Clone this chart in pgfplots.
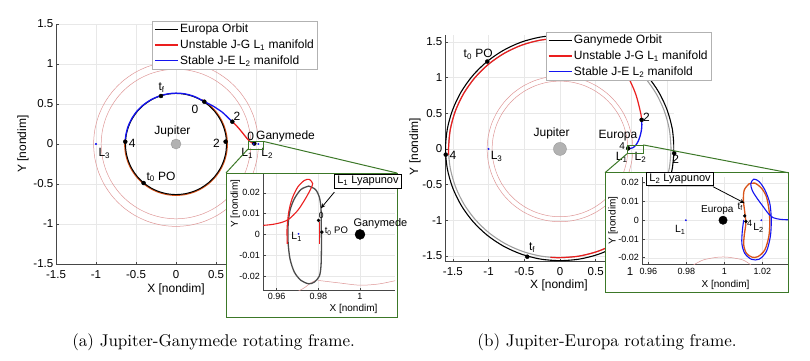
\documentclass[border=0pt]{standalone}
\usepackage{fontspec}
\usepackage{pgfplots}
\pgfplotsset{compat=1.18}
\usetikzlibrary{arrows.meta,shadows}
\newfontfamily\arial{Liberation Sans}
\newfontfamily\capfont{lmroman10-regular.otf}
\definecolor{mred}{RGB}{235,30,30}
\definecolor{mblue}{RGB}{20,20,240}
\definecolor{morange}{RGB}{217,83,25}
\definecolor{zvc}{RGB}{222,150,150}
\definecolor{ggreen}{RGB}{60,120,40}
\definecolor{axgray}{RGB}{70,70,70}
\newcommand\fsz[1]{\fontsize{#1}{#1}\selectfont}
\tikzset{
  ann/.style={font=\arial\fsz{12}, inner sep=0pt},
  callout/.style={draw=black, line width=1pt, fill=white, inner xsep=2.5pt, inner ysep=2pt,
     font=\arial\fsz{11}, drop shadow={shadow xshift=0.8pt, shadow yshift=-0.8pt, opacity=0.4}},
}
\pgfplotsset{
  base/.style={
    scale only axis, clip mode=individual, scaled ticks=false,
    axis x line*=bottom, axis y line*=left,
    axis line style={axgray, line width=0.5pt},
    tick style={axgray, line width=0.5pt},
    tick align=inside, major tick length=2.5pt,
    grid=major, grid style={gray!18, line width=0.4pt},
  },
  mainax/.style={base,
    tick label style={font=\arial\fsz{11.5}},
    label style={font=\arial\fsz{12}},
    xtick={-1.5,-1,-0.5,0,0.5,1,1.5},
    xticklabels={-1.5,-1,-0.5,0,0.5,{},{}},
    ytick={-1.5,-1,-0.5,0,0.5,1,1.5},
    yticklabels={-1.5,-1,-0.5,0,0.5,1,1.5},
    yticklabel style={xshift=0.8pt},
    xticklabel style={yshift=-3pt},
    xlabel={X [nondim]}, ylabel={Y [nondim]},
    legend cell align=left,
    legend image code/.code={\draw[#1, line width=1.5pt] (0pt,0pt) -- (23pt,0pt);},
  },
  lgd/.style={draw=gray!60, fill=white, font=\arial\fsz{12}, inner xsep=2pt, inner ysep=2pt,
     row sep=3.5pt, nodes={inner xsep=1.5pt, inner ysep=1pt}},
  inax/.style={base,
    tick label style={font=\arial\fsz{9}},
    label style={font=\arial\fsz{10}},
    ytick={-0.02,-0.01,0,0.01,0.02},
    yticklabels={-0.02,-0.01,0,0.01,0.02},
    xlabel={X [nondim]}, ylabel={Y [nondim]},
  },
  mk/.style={only marks, mark=*, mark size=2pt, black},
}
\begin{document}
\begin{tikzpicture}
\path[use as bounding box] (0,0) rectangle (810pt,360pt);
%% ================= (a) Jupiter-Ganymede =================
\begin{axis}[mainax, at={(56pt,96pt)}, anchor=south west, width=240pt, height=240pt,
  xmin=-1.5, xmax=1.5, ymin=-1.5, ymax=1.5,
  xlabel style={at={(axis description cs:0.5,-0.104)}, anchor=center},
  ylabel style={at={(axis description cs:-0.1375,0.5)}, anchor=center},
  legend style={lgd, at={(axis description cs:0.4,1.0125)}, anchor=north west}]
\addlegendimage{black}\addlegendentry{Europa Orbit}
\addlegendimage{mred}\addlegendentry{Unstable J-G L\textsubscript{1} manifold}
\addlegendimage{mblue}\addlegendentry{Stable J-E L\textsubscript{2} manifold}
% zero velocity curves
\addplot[zvc, line width=0.5pt, data cs=polar, smooth] coordinates {(3,1.03) (10,1.03) (20,1.03) (30,1.03) (40,1.03) (50,1.03) (60,1.03) (70,1.03) (80,1.03) (90,1.03) (100,1.03) (110,1.03) (120,1.03) (130,1.03) (140,1.03) (150,1.03) (160,1.03) (170,1.03) (180,1.03) (190,1.03) (200,1.03) (210,1.03) (220,1.03) (230,1.03) (240,1.03) (250,1.03) (260,1.03) (270,1.03) (280,1.03) (290,1.03) (300,1.03) (310,1.03) (320,1.03) (330,1.03) (340,1.03) (350,1.03) (357,1.03)};
\addplot[zvc, line width=0.5pt, data cs=polar, smooth] coordinates {(3,0.935) (10,0.935) (20,0.935) (30,0.935) (40,0.935) (50,0.935) (60,0.935) (70,0.935) (80,0.935) (90,0.935) (100,0.935) (110,0.935) (120,0.935) (130,0.935) (140,0.935) (150,0.935) (160,0.935) (170,0.935) (180,0.935) (190,0.935) (200,0.935) (210,0.935) (220,0.935) (230,0.935) (240,0.935) (250,0.935) (260,0.935) (270,0.935) (280,0.935) (290,0.935) (300,0.935) (310,0.935) (320,0.935) (330,0.935) (340,0.935) (350,0.935) (357,0.935)};
% unstable manifold (orange) along Europa orbit
\addplot[morange, line width=1.3pt, data cs=polar, smooth] coordinates {(175,0.641) (180,0.641) (190,0.641) (200,0.641) (210,0.641) (220,0.641) (230,0.641) (240,0.641) (250,0.641) (260,0.641) (270,0.641) (280,0.641) (290,0.641) (300,0.641) (310,0.641) (320,0.641) (330,0.641) (340,0.641) (350,0.641) (360,0.641) (370,0.641) (380,0.641) (390,0.641) (400,0.641) (410,0.641) (420,0.641)};
% Europa orbit
\addplot[black, line width=1pt, data cs=polar, smooth] coordinates {(0,0.632) (10,0.632) (20,0.632) (30,0.632) (40,0.632) (50,0.632) (60,0.632) (70,0.632) (80,0.632) (90,0.632) (100,0.632) (110,0.632) (120,0.632) (130,0.632) (140,0.632) (150,0.632) (160,0.632) (170,0.632) (180,0.632) (190,0.632) (200,0.632) (210,0.632) (220,0.632) (230,0.632) (240,0.632) (250,0.632) (260,0.632) (270,0.632) (280,0.632) (290,0.632) (300,0.632) (310,0.632) (320,0.632) (330,0.632) (340,0.632) (350,0.632) (360,0.632)};
% stable J-E L2 manifold
\addplot[mblue, line width=1.3pt, data cs=polar, smooth] coordinates {(177.4,0.636) (170,0.637) (160,0.638) (150,0.638) (140,0.638) (130,0.637) (120,0.636) (110,0.635) (100,0.635) (90,0.636) (80,0.637) (70,0.637) (60,0.637) (56.2,0.638) (50,0.650) (45,0.665) (40,0.680) (35,0.700) (30,0.717) (25,0.737) (21.6,0.757)};
% unstable J-G L1 manifold
\addplot[mred, line width=1.3pt, smooth] coordinates {(0.704,0.279) (0.745,0.240) (0.790,0.190) (0.835,0.135) (0.875,0.085) (0.910,0.045) (0.940,0.020) (0.965,0.008) (0.980,0.006)};
% points
\addplot[mk] coordinates {(-0.188,0.600) (0.354,0.529) (0.704,0.279) (-0.634,0.029) (0.620,0.029) (-0.405,-0.4875) (0.979,0.006)};
\addplot[only marks, mark=*, mark size=0.8pt, mblue] coordinates {(-1,0) (0.97,0) (1.03,0)};
\addplot[only marks, mark=*, mark size=5pt, mark options={fill=gray!60, draw=gray!80}] coordinates {(0,0)};
\node[ann] at (axis cs:-0.18,0.708) {t\textsubscript{f}};
\node[ann] at (axis cs:0.237,0.43) {0};
\node[ann] at (axis cs:0.762,0.345) {2};
\node[ann] at (axis cs:-0.546,0.012) {4};
\node[ann] at (axis cs:0.507,0.012) {2};
\node[ann, anchor=west] at (axis cs:-0.37,-0.41) {t\textsubscript{0} PO};
\node[ann] at (axis cs:0.933,0.094) {0};
\node[ann, anchor=west] at (axis cs:1.0,0.094) {Ganymede};
\node[ann] at (axis cs:0.89,-0.115) {L\textsubscript{1}};
\node[ann] at (axis cs:1.14,-0.12) {L\textsubscript{2}};
\node[ann] at (axis cs:-0.896,-0.12) {L\textsubscript{3}};
\node[ann] at (axis cs:-0.044,0.16) {Jupiter};
\draw[ggreen, line width=0.8pt] (axis cs:0.9,-0.0625) rectangle (axis cs:1.095,0.032);
\coordinate (ra1) at (axis cs:1.095,0.032);
\coordinate (ra2) at (axis cs:0.9,-0.0625);
\end{axis}
%% inset (a)
\filldraw[fill=white, draw=ggreen, line width=1pt] (226pt,43pt) rectangle (397pt,187pt);
\draw[ggreen, line width=1pt] (ra1) -- (397pt,187pt);
\draw[ggreen, line width=1pt] (ra2) -- (226pt,187pt);
\begin{axis}[inax, at={(263.3pt,70pt)}, anchor=south west, width=131.7pt, height=116pt,
  xmin=0.9536, xmax=1.0168, ymin=-0.0267, ymax=0.029,
  xtick={0.96,0.98,1}, xticklabels={0.96,0.98,1},
  xlabel style={at={(axis description cs:0.685,-0.161)}, anchor=center},
  ylabel style={at={(axis description cs:-0.2126,0.744)}, anchor=center}]
\addplot[zvc, line width=0.5pt, smooth] coordinates {(0.9700,-0.0275) (0.9735,-0.0255) (0.9765,-0.0232) (0.9785,-0.0222)};
\addplot[zvc, line width=0.5pt, smooth] coordinates {(0.9800,-0.0221) (0.9900,-0.0233) (1.0000,-0.0244) (1.0090,-0.0238) (1.0170,-0.0222)};
\addplot[black!70, line width=1.3pt, smooth] coordinates {(0.9754,0.0232) (0.9786,0.0216) (0.9805,0.0179) (0.9813,0.0123) (0.9814,0.0043) (0.9815,-0.0053) (0.9813,-0.0149) (0.9805,-0.0200) (0.9781,-0.0229) (0.9754,-0.0237) (0.9717,-0.0221) (0.9685,-0.0181) (0.9664,-0.0117) (0.9655,-0.0037) (0.9655,0.0043) (0.9664,0.0115) (0.9685,0.0171) (0.9717,0.0216) (0.9754,0.0232)};
\addplot[mred, line width=1.1pt] coordinates {(0.9807,0.0059) (0.9807,-0.0045)};
\addplot[mred, line width=1.1pt, smooth] coordinates {(0.9530,0.0043) (0.9581,0.0048) (0.9629,0.0059) (0.9661,0.0075) (0.9701,0.0115) (0.9733,0.0163) (0.9760,0.0211) (0.9773,0.0243) (0.9757,0.0264) (0.9733,0.0259) (0.9701,0.0227) (0.9674,0.0171) (0.9658,0.0107) (0.9650,0.0027) (0.9651,-0.0045)};
\addplot[only marks, mark=*, mark size=1.5pt, black] coordinates {(0.9801,0.0067) (0.9817,0.0011)};
\addplot[only marks, mark=*, mark size=0.7pt, mblue] coordinates {(0.9705,0.0003)};
\addplot[only marks, mark=*, mark size=5pt, black] coordinates {(1,0)};
\node[font=\arial\fsz{8.5}] at (axis cs:0.9814,0.0092) {0};
\node[font=\arial\fsz{9.5}, anchor=west, inner sep=0pt] at (axis cs:0.9830,0.0016) {t\textsubscript{0} PO};
\node[font=\arial\fsz{10.5}] at (axis cs:0.9696,-0.0012) {L\textsubscript{1}};
\node[font=\arial\fsz{11}, anchor=west, inner sep=0pt] at (axis cs:0.9968,0.0054) {Ganymede};
\draw[-{Stealth[length=5pt,width=4pt]}, line width=0.8pt] (axis cs:0.9877,0.0203) -- (axis cs:0.9812,0.0125);
\node[callout, anchor=north west] at (axis cs:0.9877,0.0291) {L\textsubscript{1} Lyapunov};
\end{axis}
%% ================= (b) Jupiter-Europa =================
\begin{axis}[mainax, at={(445pt,99pt)}, anchor=south west, width=229.2pt, height=225.6pt,
  xmin=-1.61, xmax=1.6, ymin=-1.57, ymax=1.59,
  xlabel style={at={(axis description cs:0.497,-0.106)}, anchor=center},
  ylabel style={at={(axis description cs:-0.131,0.507)}, anchor=center},
  legend style={lgd, at={(axis description cs:0.4394,1.015)}, anchor=north west}]
\addlegendimage{black}\addlegendentry{Ganymede Orbit}
\addlegendimage{mred}\addlegendentry{Unstable J-G L\textsubscript{1} manifold}
\addlegendimage{mblue}\addlegendentry{Stable J-E L\textsubscript{2} manifold}
\addplot[zvc, line width=0.5pt, data cs=polar, smooth] coordinates {(3,1.02) (10,1.02) (20,1.02) (30,1.02) (40,1.02) (50,1.02) (60,1.02) (70,1.02) (80,1.02) (90,1.02) (100,1.02) (110,1.02) (120,1.02) (130,1.02) (140,1.02) (150,1.02) (160,1.02) (170,1.02) (180,1.02) (190,1.02) (200,1.02) (210,1.02) (220,1.02) (230,1.02) (240,1.02) (250,1.02) (260,1.02) (270,1.02) (280,1.02) (290,1.02) (300,1.02) (310,1.02) (320,1.02) (330,1.02) (340,1.02) (350,1.02) (357,1.02)};
\addplot[zvc, line width=0.5pt, data cs=polar, smooth] coordinates {(3,0.95) (10,0.95) (20,0.95) (30,0.95) (40,0.95) (50,0.95) (60,0.95) (70,0.95) (80,0.95) (90,0.95) (100,0.95) (110,0.95) (120,0.95) (130,0.95) (140,0.95) (150,0.95) (160,0.95) (170,0.95) (180,0.95) (190,0.95) (200,0.95) (210,0.95) (220,0.95) (230,0.95) (240,0.95) (250,0.95) (260,0.95) (270,0.95) (280,0.95) (290,0.95) (300,0.95) (310,0.95) (320,0.95) (330,0.95) (340,0.95) (350,0.95) (357,0.95)};
% Ganymede orbit (black) and companion trajectory (gray)
\addplot[black, line width=1.1pt, data cs=polar, smooth] coordinates {(0,1.598) (10,1.598) (20,1.597) (30,1.596) (40,1.594) (50,1.592) (60,1.591) (70,1.590) (80,1.590) (90,1.590) (100,1.590) (110,1.591) (120,1.592) (130,1.594) (140,1.596) (150,1.598) (160,1.600) (170,1.602) (180,1.603) (190,1.602) (200,1.598) (210,1.593) (220,1.587) (230,1.581) (240,1.575) (250,1.570) (260,1.567) (270,1.565) (280,1.567) (290,1.571) (300,1.577) (310,1.583) (320,1.588) (330,1.592) (340,1.595) (350,1.597) (360,1.598)};
\addplot[gray!75, line width=1.1pt, data cs=polar, smooth] coordinates {(0,1.556) (10,1.556) (20,1.555) (30,1.554) (40,1.552) (50,1.550) (60,1.549) (70,1.548) (80,1.548) (90,1.548) (100,1.548) (110,1.549) (120,1.550) (130,1.552) (140,1.554) (150,1.556) (160,1.558) (170,1.560) (180,1.561) (190,1.560) (200,1.556) (210,1.551) (220,1.545) (230,1.539) (240,1.533) (250,1.528) (260,1.525) (270,1.523) (280,1.525) (290,1.529) (300,1.535) (310,1.541) (320,1.546) (330,1.550) (340,1.553) (350,1.555) (360,1.556)};
% unstable manifold
\addplot[mred, line width=1.2pt, data cs=polar, smooth] coordinates {(183,1.561) (180,1.561) (170,1.560) (160,1.558) (150,1.556) (140,1.554) (130,1.552) (120,1.550) (110,1.549) (100,1.548) (90,1.548) (80,1.548) (70,1.548) (60,1.549)};
\addplot[mred, line width=1.2pt, smooth] coordinates {(0.7745,1.3415) (0.835,1.235) (0.89,1.13) (0.94,1.03) (0.98,0.955) (1.02,0.87) (1.06,0.77) (1.09,0.67) (1.115,0.57) (1.135,0.48) (1.144,0.407)};
\addplot[mred, line width=1.2pt, data cs=polar, smooth] coordinates {(265,1.524) (270,1.523) (280,1.525) (290,1.529) (300,1.535) (310,1.541)};
% stable manifold
\addplot[mblue, line width=1.3pt, smooth] coordinates {(1.144,0.407) (1.147,0.34) (1.142,0.27) (1.125,0.19) (1.097,0.11) (1.06,0.05) (1.02,0.016) (0.985,0.006) (0.957,0.008)};
\addplot[mk] coordinates {(-1.018,1.224) (-1.60,-0.08) (-0.458,-1.51) (1.144,0.407) (1.60,-0.06) (0.955,0.008)};
\addplot[only marks, mark=*, mark size=0.8pt, mblue] coordinates {(-1,0)};
\addplot[only marks, mark=*, mark size=6.5pt, mark options={fill=gray!60, draw=gray!80}] coordinates {(0,0)};
\node[ann] at (axis cs:-1.145,1.33) {t\textsubscript{0} PO};
\node[ann] at (axis cs:-1.5,-0.084) {4};
\node[ann] at (axis cs:-0.39,-1.38) {t\textsubscript{f}};
\node[ann] at (axis cs:1.21,0.44) {2};
\node[ann] at (axis cs:1.62,-0.14) {2};
\node[font=\arial\fsz{10}, inner sep=0pt] at (axis cs:0.872,0.045) {4};
\node[ann] at (axis cs:0.812,0.19) {Europa};
\node[ann] at (axis cs:0.864,-0.115) {L\textsubscript{1}};
\node[ann] at (axis cs:1.127,-0.115) {L\textsubscript{2}};
\node[ann] at (axis cs:-0.887,-0.11) {L\textsubscript{3}};
\node[ann] at (axis cs:-0.117,0.22) {Jupiter};
\draw[ggreen, line width=0.8pt] (axis cs:0.948,-0.06) rectangle (axis cs:1.167,0.056);
\coordinate (rb1) at (axis cs:1.167,0.056);
\coordinate (rb2) at (axis cs:0.948,-0.06);
\end{axis}
%% inset (b)
\filldraw[fill=white, draw=ggreen, line width=1pt] (605pt,67.3pt) rectangle (788.3pt,187.3pt);
\draw[ggreen, line width=1pt] (rb1) -- (788.3pt,187.3pt);
\draw[ggreen, line width=1pt] (rb2) -- (605pt,187.3pt);
\node[font=\arial\fsz{11.5}] at (630pt,88.5pt) {1};
\begin{axis}[inax, at={(642.3pt,95.7pt)}, anchor=south west, width=145.7pt, height=87.6pt,
  xmin=0.9568, xmax=1.0335, ymin=-0.0235, ymax=0.0232,
  xtick={0.96,0.98,1,1.02}, xticklabels={0.96,0.98,1,1.02},
  xlabel style={at={(axis description cs:0.571,-0.236)}, anchor=center},
  ylabel style={at={(axis description cs:-0.201,0.5)}, anchor=center}]
\addplot[zvc, line width=0.5pt, smooth] coordinates {(0.9835,-0.0240) (0.9888,-0.0212) (0.9958,-0.0198) (0.9993,-0.0196) (1.0028,-0.0198) (1.0098,-0.0212) (1.0142,-0.0240)};
\addplot[morange, line width=1.3pt, smooth] coordinates {(1.0130,0.0194) (1.0160,0.0198) (1.0195,0.0171) (1.0221,0.0126) (1.0235,0.0055) (1.0239,-0.0016) (1.0234,-0.0087) (1.0213,-0.0158) (1.0177,-0.0194) (1.0146,-0.0197) (1.0116,-0.0176) (1.0102,-0.0132) (1.0105,-0.0078) (1.0113,-0.0016) (1.0107,0.0046) (1.0100,0.0108) (1.0105,0.0162) (1.0130,0.0194)};
\addplot[mblue, line width=1.1pt, smooth] coordinates {(1.0340,0.0002) (1.0292,0.0005) (1.0256,0.0014) (1.0230,0.0037) (1.0204,0.0073) (1.0172,0.0117) (1.0147,0.0158) (1.0139,0.0194) (1.0155,0.0219) (1.0183,0.0206) (1.0213,0.0162) (1.0239,0.0091) (1.0247,0.0002) (1.0242,-0.0087) (1.0221,-0.0167) (1.0183,-0.0208) (1.0142,-0.0208) (1.0107,-0.0176) (1.0092,-0.0123) (1.0095,-0.0052) (1.0102,0.0002)};
\addplot[only marks, mark=*, mark size=1.5pt, black] coordinates {(1.0107,0.0023) (1.0113,-0.0007)};
\addplot[only marks, mark=*, mark size=0.7pt, mblue] coordinates {(0.9797,0) (1.0195,0)};
\addplot[only marks, mark=*, mark size=4.2pt, black] coordinates {(0.9993,0)};
\node[font=\arial\fsz{10}] at (axis cs:0.9963,0.0055) {Europa};
\node[font=\arial\fsz{10}] at (axis cs:1.0083,0.0071) {t\textsubscript{f}};
\node[font=\arial\fsz{9}] at (axis cs:1.0133,-0.0016) {4};
\node[font=\arial\fsz{10.5}] at (axis cs:1.018,-0.0041) {L\textsubscript{2}};
\node[font=\arial\fsz{10.5}] at (axis cs:0.9768,-0.0052) {L\textsubscript{1}};
\draw[-{Stealth[length=5pt,width=4pt]}, line width=0.8pt] (axis cs:0.994,0.0179) -- (axis cs:1.0107,0.0091);
\node[callout, anchor=north west] at (axis cs:0.959,0.0259) {L\textsubscript{2} Lyapunov};
\end{axis}
%% captions
\node[font=\capfont\fsz{17}] at (213.6pt,18pt) {(a) Jupiter-Ganymede rotating frame.};
\node[font=\capfont\fsz{17}] at (607pt,18pt) {(b) Jupiter-Europa rotating frame.};
\end{tikzpicture}
\end{document}
